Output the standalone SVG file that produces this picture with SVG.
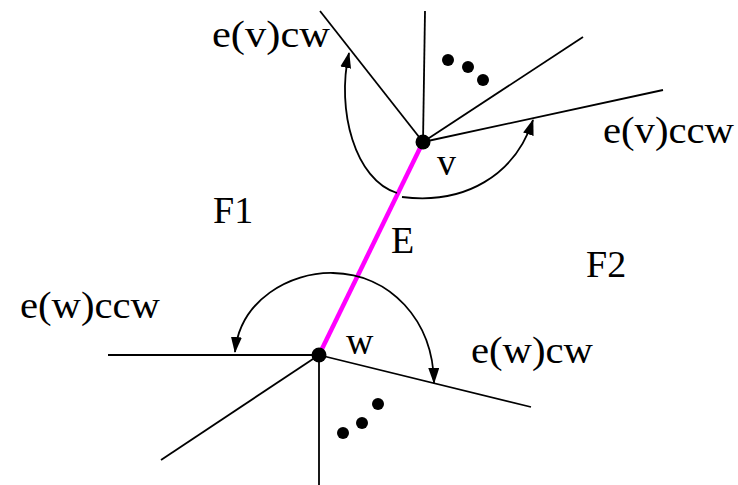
<svg xmlns="http://www.w3.org/2000/svg" width="738" height="485" viewBox="0 0 738 485">
<style>
.ln{stroke:#000;stroke-width:1.8;fill:none}
.arc{stroke:#000;stroke-width:1.8;fill:none}
.lbl{font-family:"Liberation Serif","Times New Roman",serif;font-size:38px;fill:#000}
.dot{fill:#000}
</style>
<defs>
<marker id="ah" viewBox="0 0 16 11" refX="15" refY="5.5" markerWidth="16" markerHeight="11" markerUnits="userSpaceOnUse" orient="auto-start-reverse">
<path d="M0 0 L16 5.5 L0 11 z" fill="#000"/>
</marker>
</defs>
<rect width="738" height="485" fill="#fff"/>
<g id="connectors">
<line class="ln" x1="423" y1="142" x2="320" y2="11"/>
<line class="ln" x1="423" y1="142" x2="425" y2="11"/>
<line class="ln" x1="423" y1="142" x2="583" y2="37"/>
<line class="ln" x1="423" y1="142" x2="663" y2="90"/>
<line class="ln" x1="319" y1="355" x2="108" y2="355"/>
<line class="ln" x1="319" y1="355" x2="161" y2="460"/>
<line class="ln" x1="319" y1="355" x2="319" y2="485"/>
<line class="ln" x1="319" y1="355" x2="531" y2="407"/>
<line id="edgeE" x1="423" y1="142" x2="319" y2="355" stroke="#ff00ff" stroke-width="4.5"/>
<path class="arc" d="M397 193 C355 180 336 110 349 53" marker-end="url(#ah)"/>
<path class="arc" d="M402 197 C465 205 515 175 533 120" marker-end="url(#ah)"/>
<path class="arc" d="M235 352 C240 300 290 272 333 273 C390 274 433 320 434 383" marker-start="url(#ah)" marker-end="url(#ah)"/>
</g>
<g id="node-v">
<circle class="dot" cx="423" cy="142" r="7.5"/>
<text class="lbl" x="437" y="175">v</text>
</g>
<g id="node-w">
<circle class="dot" cx="319" cy="355" r="7.5"/>
<text class="lbl" x="346" y="354">w</text>
</g>
<g id="dots-v">
<circle class="dot" cx="448" cy="60" r="6"/>
<circle class="dot" cx="468" cy="67" r="6"/>
<circle class="dot" cx="483" cy="80" r="6"/>
</g>
<g id="dots-w">
<circle class="dot" cx="343" cy="433" r="6"/>
<circle class="dot" cx="362" cy="423" r="6"/>
<circle class="dot" cx="378" cy="404" r="6"/>
</g>
<g id="labels">
<text class="lbl" x="212" y="47" textLength="118" lengthAdjust="spacingAndGlyphs">e(v)cw</text>
<text class="lbl" x="603" y="143" textLength="131" lengthAdjust="spacingAndGlyphs">e(v)ccw</text>
<text class="lbl" x="213" y="223">F1</text>
<text class="lbl" x="391" y="253">E</text>
<text class="lbl" x="586" y="277">F2</text>
<text class="lbl" x="20" y="318" textLength="140" lengthAdjust="spacingAndGlyphs">e(w)ccw</text>
<text class="lbl" x="471" y="363" textLength="122" lengthAdjust="spacingAndGlyphs">e(w)cw</text>
</g>
</svg>
